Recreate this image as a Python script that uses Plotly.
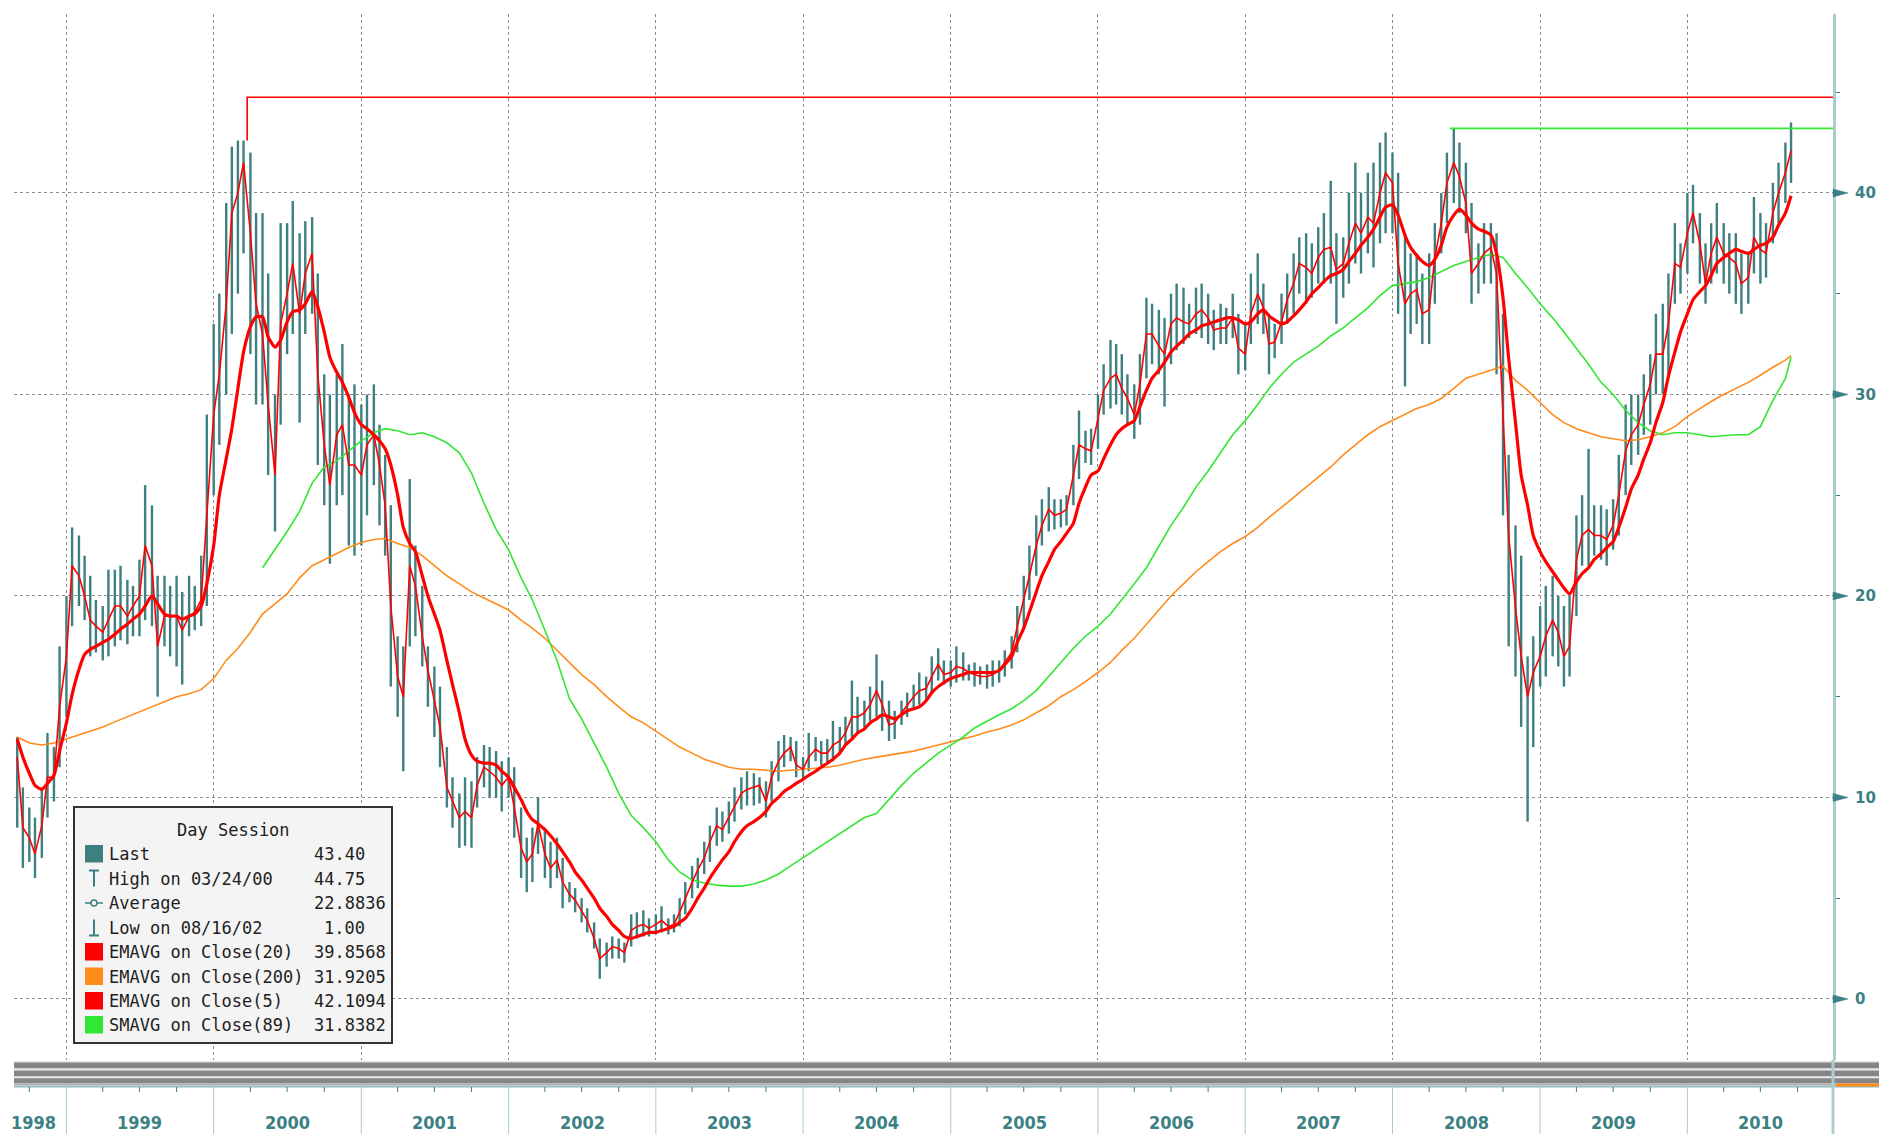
import plotly.graph_objects as go
import pandas as pd

# ---------------- data ----------------
# semi-monthly bars, 1998-09-01 .. 2010-09-15
high = [
    13.0, 10.5, 9.5, 9.0, 10.5, 13.2, 12.5, 17.5,
    20.0, 23.4, 23.0, 22.0, 21.0, 19.8, 19.5, 21.3, 21.3, 21.5, 20.8, 20.5, 21.8, 25.5, 24.5, 21.0, 21.0, 20.5, 21.0, 20.2, 21.0, 20.5, 22.0, 29.0,
    33.5, 35.0, 39.5, 42.3, 42.6, 42.6, 42.0, 39.0, 39.0, 36.0, 30.0, 38.5, 38.5, 39.6, 38.0, 38.6, 38.8, 36.0, 31.0, 30.0, 31.0, 32.5, 30.0, 30.5,
    29.5, 30.0, 30.5, 28.5, 27.0, 24.5, 18.0, 17.5, 25.8, 22.5, 20.5, 17.5, 16.5, 15.5, 12.5, 11.0, 10.2, 11.0, 10.8, 12.0, 12.6, 12.5, 12.3, 11.8,
    12.0, 11.5, 9.5, 8.0, 8.5, 10.0, 8.5, 7.8, 8.0, 7.0, 5.8, 5.5, 5.0, 4.5, 3.8, 3.0, 2.8, 3.1, 3.0, 2.8, 4.2, 4.3, 4.4, 4.0,
    4.2, 4.6, 4.0, 4.2, 5.0, 5.8, 6.6, 7.0, 7.8, 8.6, 9.5, 9.3, 9.8, 10.5, 11.0, 11.3, 11.2, 11.0, 10.8, 11.8, 12.8, 13.1, 13.0, 12.8,
    12.0, 13.2, 13.0, 12.8, 12.9, 13.8, 13.5, 14.0, 15.8, 15.0, 14.8, 15.5, 17.1, 15.8, 14.8, 14.3, 14.8, 15.2, 15.6, 16.2, 16.0, 17.0, 17.4, 16.8,
    16.8, 17.5, 17.2, 16.6, 16.7, 16.5, 16.6, 16.8, 16.8, 17.3, 18.0, 19.5, 21.0, 22.5, 24.0, 24.8, 25.4, 24.8, 24.8, 25.0, 27.5, 29.2, 28.2, 28.3,
    30.0, 31.5, 32.7, 32.5, 32.0, 31.0, 30.5, 32.0, 34.8, 34.5, 34.2, 33.8, 35.0, 35.5, 35.3, 34.5, 35.3, 35.5, 35.0, 34.2, 34.5, 34.3, 35.0, 34.0,
    33.5, 36.0, 37.0, 35.5, 34.0, 33.5, 35.0, 36.0, 37.0, 37.8, 38.0, 37.5, 38.3, 39.0, 40.6, 38.0, 37.8, 40.0, 41.5, 40.0, 41.0, 41.5, 42.5, 43.0,
    42.0, 41.0, 38.0, 37.0, 37.0, 36.0, 37.0, 38.5, 40.0, 42.0, 43.2, 42.5, 41.5, 39.5, 37.5, 38.5, 38.5, 38.0, 34.0, 27.0, 23.5, 22.0, 17.0, 18.0,
    19.5, 20.5, 21.0, 20.0, 19.5, 20.0, 24.0, 25.0, 27.3, 24.5, 24.5, 24.3, 24.8, 27.0, 29.5, 30.0, 30.0, 31.0, 32.0, 34.0, 34.5, 36.0, 38.5, 37.5,
    40.0, 40.4, 39.0, 37.5, 38.5, 39.5, 38.5, 38.0, 38.0, 37.0, 37.0, 39.8, 39.0, 38.5, 40.5, 41.5, 42.5, 43.5,
]
low = [
    8.5, 6.5, 6.8, 6.0, 7.0, 9.0, 9.8, 11.5,
    14.0, 18.5, 19.5, 18.8, 17.0, 17.2, 16.8, 17.0, 17.5, 17.8, 17.6, 18.0, 18.0, 18.8, 18.5, 15.0, 17.5, 17.0, 16.5, 15.6, 18.0, 18.3, 18.5, 19.5,
    25.0, 27.5, 30.0, 33.0, 35.0, 37.0, 32.0, 29.5, 29.5, 26.0, 23.2, 28.5, 32.0, 33.0, 28.6, 33.0, 34.0, 26.5, 24.5, 21.6, 24.5, 25.0, 22.5, 22.0,
    22.5, 24.0, 25.5, 23.5, 22.0, 15.5, 14.0, 11.3, 17.5, 18.0, 16.5, 14.5, 13.0, 11.5, 9.5, 8.5, 7.5, 7.6, 7.5, 9.5, 10.5, 10.0, 10.0, 9.3,
    10.0, 8.0, 6.0, 5.3, 5.8, 7.2, 6.0, 5.5, 6.0, 4.5, 4.8, 4.3, 3.8, 3.3, 2.5, 1.0, 1.6, 2.0, 2.0, 1.8, 2.6, 3.0, 3.1, 3.1,
    3.2, 3.3, 3.2, 3.3, 3.6, 4.2, 5.0, 5.5, 6.2, 6.8, 7.6, 7.8, 8.2, 8.8, 9.4, 9.6, 9.6, 9.7, 9.0, 9.8, 10.8, 11.5, 11.8, 11.0,
    10.9, 11.3, 11.8, 11.6, 11.7, 11.8, 12.2, 12.6, 13.0, 13.2, 13.4, 13.8, 14.0, 13.3, 12.8, 12.9, 13.6, 14.0, 14.4, 14.6, 14.8, 15.2, 15.8, 15.6,
    15.5, 15.7, 15.8, 15.8, 15.5, 15.6, 15.4, 15.5, 15.7, 16.0, 16.4, 17.2, 18.3, 19.8, 21.0, 22.5, 23.2, 23.3, 23.4, 23.5, 24.5, 25.8, 26.6, 26.5,
    27.3, 29.0, 29.3, 29.5, 29.0, 28.5, 27.8, 28.5, 30.8, 31.5, 31.0, 29.4, 31.5, 32.2, 32.5, 32.8, 33.0, 32.8, 32.5, 32.2, 32.5, 32.5, 32.8, 31.0,
    31.2, 32.5, 33.5, 33.0, 31.0, 31.8, 32.5, 33.5, 34.0, 35.0, 34.5, 34.8, 35.5, 35.5, 35.5, 33.5, 34.8, 35.5, 36.5, 36.0, 37.0, 36.3, 37.5, 38.0,
    38.0, 34.0, 30.4, 33.0, 33.5, 32.5, 32.5, 34.5, 37.0, 38.5, 39.5, 39.0, 38.0, 34.5, 35.0, 35.5, 35.5, 31.0, 24.0, 17.5, 16.0, 13.5, 8.8, 12.5,
    15.5, 16.0, 17.0, 16.5, 15.5, 16.0, 19.0, 21.5, 21.5, 22.0, 21.8, 21.5, 22.3, 23.0, 25.0, 26.5, 27.0, 28.0, 28.5, 30.0, 30.0, 31.0, 34.5, 35.0,
    36.0, 37.5, 35.5, 34.5, 35.5, 36.0, 35.5, 35.0, 34.5, 34.0, 34.5, 36.0, 35.5, 35.8, 37.5, 38.5, 39.5, 40.5,
]
ema5 = [
    12.0, 8.5, 8.0, 7.2, 8.6, 11.0, 11.0, 14.5,
    17.0, 21.5, 21.0, 20.0, 18.8, 18.5, 18.2, 18.8, 19.5, 19.5, 19.0, 19.5, 20.0, 22.5, 21.5, 17.5, 19.0, 19.0, 19.0, 18.3, 19.0, 19.2, 19.8, 24.0,
    29.0, 31.0, 34.5, 39.0, 40.0, 41.5, 38.0, 34.5, 33.0, 29.5, 26.0, 33.5, 35.0, 36.5, 34.0, 36.0, 37.0, 31.0, 27.5, 25.5, 28.0, 28.5, 26.5, 26.5,
    26.0, 27.5, 28.0, 26.5, 24.5, 19.5, 16.0, 15.0, 21.5, 20.5, 18.0, 16.3, 14.8, 13.5, 10.5, 9.8, 9.0, 9.3, 9.0, 10.6, 11.5, 11.3, 11.0, 10.6,
    11.0, 9.5, 7.5, 6.8, 7.2, 8.7, 7.2, 6.5, 6.9, 5.8, 5.2, 4.9, 4.4, 3.9, 3.0, 2.0, 2.3, 2.6, 2.5, 2.3, 3.4, 3.6, 3.7, 3.5,
    3.7, 3.9, 3.6, 3.7, 4.3, 5.0, 5.8, 6.4, 7.0, 7.8, 8.6, 8.4, 9.0, 9.6, 10.2, 10.4, 10.5, 10.6, 9.8, 11.0, 11.8, 12.2, 12.5, 11.6,
    11.4, 12.0, 12.4, 12.2, 12.2, 12.6, 12.8, 13.2, 14.0, 14.0, 14.2, 14.6, 15.3, 14.6, 13.6, 13.7, 14.2, 14.6, 15.0, 15.3, 15.4, 16.0, 16.6, 16.1,
    16.2, 16.5, 16.4, 16.2, 16.1, 16.0, 16.0, 16.1, 16.3, 16.7, 17.2, 18.5, 19.8, 21.0, 22.5, 23.5, 24.3, 24.0, 24.1, 24.3, 26.0, 27.5, 27.3, 27.2,
    28.8, 30.2, 30.8, 31.0, 30.3, 29.8, 29.0, 30.5, 33.0, 33.0, 32.4, 32.0, 33.5, 33.8, 33.6, 33.5, 34.0, 34.2, 33.8, 33.2, 33.3, 33.3, 33.8, 32.3,
    32.0, 34.0, 35.0, 34.3, 32.5, 32.6, 33.6, 34.7, 35.5, 36.5, 36.3, 36.0, 36.8, 37.2, 37.3, 36.2, 36.5, 37.5, 38.5, 38.0, 38.8, 38.5, 40.0, 41.0,
    40.5, 36.5, 34.5, 35.0, 35.2, 34.0, 34.2, 36.8, 38.5, 40.5, 41.5, 40.8, 39.5, 36.0, 36.5, 37.0, 37.3, 36.0, 29.0, 23.0, 19.4, 17.0, 15.0, 16.2,
    17.0, 18.0, 18.8, 18.2, 17.0, 17.5, 21.8, 23.0, 23.3, 23.0, 23.0, 22.8, 23.5, 25.0, 27.2, 28.0, 28.5, 29.5, 30.5, 32.0, 32.0, 33.5, 36.5, 36.3,
    38.0, 39.0, 37.5, 35.5, 37.0, 37.8, 37.0, 36.8, 36.5, 35.5, 35.8, 37.8, 37.2, 37.0, 39.0, 40.0, 41.0, 42.1,
]
ema20 = [
    12.9, 12.0, 11.2, 10.6, 10.4, 10.7, 11.1, 12.3,
    13.7, 15.1, 16.35, 17.1, 17.35, 17.5, 17.7, 17.85, 18.1, 18.35, 18.6, 18.85, 19.1, 19.5, 20.0, 19.6, 19.1, 19.0, 19.0, 18.85, 19.0, 19.1, 19.5, 20.6,
    22.5, 25.0, 26.8, 28.3, 30.3, 32.1, 33.35, 33.85, 33.85, 32.85, 32.35, 32.7, 33.6, 34.1, 34.2, 34.5, 35.1, 34.35, 33.1, 31.85, 31.1, 30.6, 29.85, 29.1,
    28.5, 28.3, 28.0, 27.7, 27.3, 26.5, 25.0, 23.4, 22.6, 22.2, 21.0, 20.0, 19.1, 18.3, 16.8, 15.6, 14.2, 12.9, 12.1, 11.8, 11.7, 11.7, 11.6, 11.3,
    11.0, 10.5, 9.9, 9.3, 8.9, 8.7, 8.4, 8.1, 7.7, 7.3, 6.8, 6.3, 5.9, 5.5, 5.0, 4.5, 4.1, 3.7, 3.4, 3.1, 3.0, 3.1, 3.2, 3.3,
    3.3, 3.4, 3.5, 3.6, 3.8, 4.0, 4.5, 5.0, 5.5, 6.0, 6.5, 6.9, 7.3, 7.8, 8.3, 8.6, 8.8, 9.0, 9.3, 9.7, 10.0, 10.3, 10.5, 10.7,
    10.9, 11.1, 11.3, 11.5, 11.7, 11.9, 12.2, 12.6, 12.9, 13.2, 13.4, 13.7, 13.9, 14.1, 14.0, 13.9, 14.1, 14.3, 14.4, 14.5, 14.8, 15.2, 15.5, 15.7,
    15.9, 16.0, 16.1, 16.2, 16.2, 16.2, 16.2, 16.2, 16.3, 16.6, 17.0, 17.7, 18.4, 19.2, 20.2, 21.0, 21.7, 22.3, 22.7, 23.1, 23.6, 24.6, 25.4, 26.0,
    26.2, 26.8, 27.5, 28.0, 28.3, 28.5, 28.7, 29.4, 30.2, 30.8, 31.2, 31.6, 32.1, 32.4, 32.7, 33.0, 33.2, 33.4, 33.5, 33.6, 33.7, 33.8, 33.8, 33.7,
    33.5, 33.6, 34.0, 34.2, 33.9, 33.7, 33.5, 33.6, 33.9, 34.2, 34.6, 35.0, 35.3, 35.6, 35.9, 36.0, 36.2, 36.6, 37.0, 37.4, 37.8, 38.2, 38.8, 39.3,
    39.4, 38.9, 37.9, 37.3, 36.9, 36.6, 36.4, 36.7, 37.4, 38.3, 38.9, 39.2, 38.9, 38.5, 38.2, 38.1, 37.9, 37.0, 34.8, 31.8, 28.6, 26.0, 24.5, 23.0,
    22.2, 21.7, 21.2, 20.8, 20.4, 20.1, 20.7, 21.1, 21.4, 21.8, 22.1, 22.4, 22.7, 23.4, 24.4, 25.3, 26.0, 26.8, 27.6, 28.6, 29.6, 30.9, 32.1, 33.1,
    34.0, 34.7, 35.1, 35.4, 35.9, 36.5, 36.8, 37.0, 37.2, 37.1, 37.0, 37.2, 37.4, 37.5, 37.8, 38.4, 39.0, 39.86,
]
# monthly from 1998-09, last value at the final bar date
ema200 = [
    13.0, 12.7, 12.6, 12.7,
    12.9, 13.1, 13.3, 13.5, 13.75, 14.0, 14.25, 14.5, 14.75, 15.0, 15.15, 15.35,
    15.9, 16.8, 17.4, 18.2, 19.1, 19.6, 20.1, 20.9, 21.5, 21.8, 22.1, 22.4,
    22.65, 22.8, 22.85, 22.6, 22.4, 22.0, 21.5, 21.0, 20.6, 20.2, 19.9, 19.6,
    19.3, 18.8, 18.4, 17.9, 17.3, 16.7, 16.1, 15.6, 15.0, 14.5, 14.0, 13.7,
    13.3, 12.9, 12.5, 12.2, 11.9, 11.7, 11.5, 11.4, 11.4, 11.35, 11.3, 11.35,
    11.4, 11.45, 11.5, 11.6, 11.75, 11.9, 12.0, 12.1, 12.2, 12.3, 12.45, 12.6,
    12.75, 12.9, 13.05, 13.25, 13.4, 13.6, 13.85, 14.2, 14.55, 15.0, 15.35, 15.75,
    16.2, 16.7, 17.3, 17.9, 18.6, 19.3, 20.0, 20.6, 21.2, 21.7, 22.2, 22.6,
    22.95, 23.4, 23.9, 24.4, 24.9, 25.4, 25.9, 26.4, 27.0, 27.5, 28.0, 28.4,
    28.7, 29.0, 29.3, 29.5, 29.8, 30.3, 30.8, 31.0, 31.2, 31.4, 30.7, 30.2,
    29.6, 29.0, 28.6, 28.3, 28.1, 27.9, 27.8, 27.7, 27.75, 27.9, 28.1, 28.4,
    28.9, 29.3, 29.65, 30.0, 30.3, 30.6, 30.95, 31.35, 31.7,
    31.92,
]
# monthly from 2000-05, last value at the final bar date
sma89 = [
    21.4, 22.3, 23.2, 24.2, 25.6, 26.4, 26.7, 27.2,
    27.7, 28.1, 28.3, 28.2, 28.0, 28.1, 27.9, 27.6, 27.1, 26.1, 24.6, 23.3,
    22.3, 20.9, 19.8, 18.3, 16.8, 14.9, 13.9, 12.7, 11.5, 10.2, 9.1, 8.5,
    7.8, 6.9, 6.3, 5.9, 5.75, 5.65, 5.6, 5.6, 5.7, 5.9, 6.2, 6.6,
    7.0, 7.4, 7.8, 8.2, 8.6, 9.0, 9.2, 9.9, 10.6, 11.2, 11.7, 12.2,
    12.6, 13.0, 13.45, 13.8, 14.1, 14.4, 14.8, 15.3, 16.0, 16.7, 17.4, 18.0,
    18.5, 19.1, 19.8, 20.6, 21.4, 22.5, 23.5, 24.4, 25.4, 26.2, 27.1, 28.0,
    28.7, 29.5, 30.3, 31.0, 31.6, 32.0, 32.4, 32.9, 33.3, 33.8, 34.3, 34.9,
    35.4, 35.5, 35.6, 35.8, 36.1, 36.4, 36.6, 36.8, 36.95, 36.8, 36.0, 35.3,
    34.5, 33.8, 33.1, 32.3, 31.5, 30.6, 30.0, 29.2, 28.6, 28.2, 28.0, 28.1,
    28.1, 28.0, 27.9, 27.95, 28.0, 28.0, 28.4, 29.7, 30.8,
    31.84,
]
high_value, high_date, high_bar_top = 44.75, "2000-03-24", 42.6
green_level, green_date = 43.2, "2008-05-22"
years = list(range(1998, 2011))
y_ticks = [0, 10, 20, 30, 40]

legend_title = "Day Session"
legend_labels = ["Last", "High on 03/24/00", "Average", "Low on 08/16/02",
                 "EMAVG on Close(20)", "EMAVG on Close(200)", "EMAVG on Close(5)", "SMAVG on Close(89)"]
legend_values = ["43.40", "44.75", "22.8836", "1.00", "39.8568", "31.9205", "42.1094", "31.8382"]

# ---------------- styling ----------------
TEAL = "#3e7f80"
RED = "#ff0000"
ORANGE = "#ff8c1a"
GREEN = "#33e633"
AXTEAL = "#3b8084"
AXLINE = "#a9cccc"
GRID = "#8c8c8c"

W, H = 1879, 1134
PL, PR, PT, PB = 14, 1833, 14, 1060      # plot-area pixel bounds
Y0, Y1 = -3.03, 48.88


def px(X):
    return (X - PL) / (PR - PL)


def py(Y):
    return (PB - Y) / (PB - PT)


bar_dates = pd.date_range("1998-09-01", periods=len(high), freq="SMS")
ema200_dates = pd.date_range("1998-09-01", periods=len(ema200) - 1, freq="MS").append(bar_dates[-1:])
sma89_dates = pd.date_range("2000-05-01", periods=len(sma89) - 1, freq="MS").append(bar_dates[-1:])
x_start, x_end = "1998-08-24", "2010-12-28"

fig = go.Figure()

# high-low bars
bx, by = [], []
for d, h, l in zip(bar_dates, high, low):
    bx += [d, d, None]
    by += [l, h, None]
fig.add_trace(go.Scatter(x=bx, y=by, mode="lines", line=dict(color=TEAL, width=2.4), hoverinfo="skip"))

fig.add_trace(go.Scatter(x=ema200_dates, y=ema200, mode="lines", line=dict(color=ORANGE, width=1.6)))
fig.add_trace(go.Scatter(x=sma89_dates, y=sma89, mode="lines", line=dict(color=GREEN, width=1.6)))
fig.add_trace(go.Scatter(x=bar_dates, y=ema5, mode="lines", line=dict(color=RED, width=1.6)))
fig.add_trace(go.Scatter(x=bar_dates, y=ema20, mode="lines", line=dict(color=RED, width=3.2, shape="spline", smoothing=0.6)))

# high line and green level line
fig.add_trace(go.Scatter(x=[high_date, high_date, x_end], y=[high_bar_top, high_value, high_value],
                         mode="lines", line=dict(color=RED, width=1.6)))
fig.add_trace(go.Scatter(x=[green_date, x_end], y=[green_level, green_level],
                         mode="lines", line=dict(color=GREEN, width=1.8)))

shapes = []
ann = []

# bottom bands
band_specs = [(1061.5, 1062.5, "#c8c8c8"), (1062.5, 1068.5, "#858585"), (1068.5, 1070.5, "#e6e6e6"),
              (1070.5, 1076.5, "#858585"), (1076.5, 1078.3, "#e6e6e6"), (1078.3, 1083.3, "#858585"),
              (1083.3, 1085.5, "#b0b0b0"), (1085.8, 1087.4, "#8fbcbc")]
for y0, y1, c in band_specs:
    shapes.append(dict(type="rect", xref="paper", yref="paper", x0=px(PL), x1=px(W), y0=py(y1), y1=py(y0),
                       fillcolor=c, line=dict(width=0), layer="above"))
shapes.append(dict(type="rect", xref="paper", yref="paper", x0=px(1836), x1=px(W), y0=py(1086.5), y1=py(1083.5),
                   fillcolor=ORANGE, line=dict(width=0), layer="above"))
shapes.append(dict(type="line", xref="paper", yref="paper", x0=1, x1=1, y0=py(1134), y1=py(1060),
                   line=dict(color=AXLINE, width=3), layer="above"))

# right-axis tick markers (flat triangles pointing at the labels)
tri_w = 15 / (PR - PL)
tri_h = 4.0 * (Y1 - Y0) / (PB - PT)
for v in y_ticks:
    shapes.append(dict(type="path", xref="paper", yref="y",
                       path=f"M 1,{v - tri_h} L {1 + tri_w},{v} L 1,{v + tri_h} Z",
                       fillcolor=AXTEAL, line=dict(color=AXTEAL, width=0.5), layer="above"))

# year separators and quarter ticks below the bands
for yr in years:
    if yr > 1998:
        shapes.append(dict(type="line", xref="x", yref="paper", x0=f"{yr}-01-01", x1=f"{yr}-01-01",
                           y0=py(1134), y1=py(1087), line=dict(color=AXLINE, width=1)))
    for m in ("04", "07", "10"):
        if yr == 1998 and m != "10":
            continue
        shapes.append(dict(type="line", xref="x", yref="paper", x0=f"{yr}-{m}-01", x1=f"{yr}-{m}-01",
                           y0=py(1092), y1=py(1087), line=dict(color=AXTEAL, width=1)))
    lab_x = "1998-10-12" if yr == 1998 else f"{yr}-07-02"
    ann.append(dict(x=lab_x, y=py(1122), xref="x", yref="paper", text=f"<b>{yr}</b>", showarrow=False,
                    font=dict(family="Liberation Sans Narrow, DejaVu Sans Condensed, Liberation Sans", size=18, color=AXTEAL),
                    xanchor="center", yanchor="middle"))

# legend box
shapes.append(dict(type="rect", xref="paper", yref="paper", x0=px(74), x1=px(392), y0=py(1043), y1=py(807),
                   fillcolor="#f4f4f4", line=dict(color="#333333", width=2), layer="above"))
LFONT = dict(family="DejaVu Sans Mono", size=17, color="#1e1e1e")
ann.append(dict(x=px(233), y=py(830), xref="paper", yref="paper", text=legend_title, showarrow=False,
                font=LFONT, xanchor="center", yanchor="middle"))
row_y = [854, 878.5, 903, 927.5, 952, 976.5, 1001, 1025]
sq_colors = {0: TEAL, 4: RED, 5: ORANGE, 6: RED, 7: GREEN}
for k, (lab, val) in enumerate(zip(legend_labels, legend_values)):
    yc = row_y[k]
    ann.append(dict(x=px(107), y=py(yc), xref="paper", yref="paper", text=lab, showarrow=False,
                    font=LFONT, xanchor="left", yanchor="middle"))
    vx = 322 if val == "1.00" else 312
    ann.append(dict(x=px(vx), y=py(yc), xref="paper", yref="paper", text=val, showarrow=False,
                    font=LFONT, xanchor="left", yanchor="middle"))
    if k in sq_colors:
        shapes.append(dict(type="rect", xref="paper", yref="paper", x0=px(85), x1=px(103),
                           y0=py(yc + 8.5), y1=py(yc - 9), fillcolor=sq_colors[k], line=dict(width=0), layer="above"))
# High icon
shapes.append(dict(type="line", xref="paper", yref="paper", x0=px(94), x1=px(94), y0=py(row_y[1] + 8), y1=py(row_y[1] - 8),
                   line=dict(color=TEAL, width=2), layer="above"))
shapes.append(dict(type="line", xref="paper", yref="paper", x0=px(89), x1=px(99), y0=py(row_y[1] - 8), y1=py(row_y[1] - 8),
                   line=dict(color=TEAL, width=2), layer="above"))
# Average icon
shapes.append(dict(type="line", xref="paper", yref="paper", x0=px(85), x1=px(103), y0=py(row_y[2]), y1=py(row_y[2]),
                   line=dict(color=TEAL, width=1.5), layer="above"))
shapes.append(dict(type="circle", xref="paper", yref="paper", x0=px(91), x1=px(97), y0=py(row_y[2] + 3), y1=py(row_y[2] - 3),
                   line=dict(color=TEAL, width=1.5), fillcolor="#f4f4f4", layer="above"))
# Low icon
shapes.append(dict(type="line", xref="paper", yref="paper", x0=px(94), x1=px(94), y0=py(row_y[3] + 8), y1=py(row_y[3] - 8),
                   line=dict(color=TEAL, width=2), layer="above"))
shapes.append(dict(type="line", xref="paper", yref="paper", x0=px(89), x1=px(99), y0=py(row_y[3] + 8), y1=py(row_y[3] + 8),
                   line=dict(color=TEAL, width=2), layer="above"))

fig.update_layout(
    width=W, height=H,
    margin=dict(l=PL, r=W - PR, t=PT, b=H - PB, autoexpand=False),
    paper_bgcolor="white", plot_bgcolor="white",
    showlegend=False,
    shapes=shapes, annotations=ann,
    xaxis=dict(type="date", range=[x_start, x_end], automargin=False,
               tickvals=[f"{y}-01-01" for y in years if y > 1998],
               showticklabels=False, ticks="",
               showgrid=True, gridcolor=GRID, griddash="dot", gridwidth=1,
               zeroline=False, showline=False),
    yaxis=dict(side="right", range=[Y0, Y1], automargin=False,
               tickvals=y_ticks, ticktext=[str(v) for v in y_ticks],
               tickfont=dict(family="DejaVu Sans", size=15, color=AXTEAL, weight="bold"),
               ticks="", ticklabelstandoff=16,
               showgrid=True, gridcolor=GRID, griddash="dot", gridwidth=1,
               zeroline=False, showline=True, linecolor=AXLINE, linewidth=3,
               minor=dict(tickvals=[5, 15, 25, 35, 45], ticks="outside", ticklen=4, tickcolor=AXTEAL, showgrid=False)),
)

fig.write_html("out.html", config={"displayModeBar": False},
               post_script="document.body.style.margin='0px';document.body.style.overflow='hidden';")
